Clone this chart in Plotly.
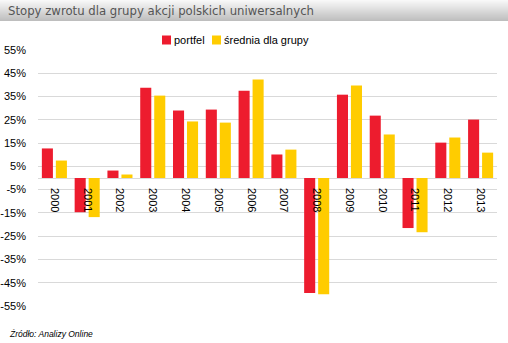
import plotly.graph_objects as go

# Annual returns (%) of the portfolio vs. the group average
years = ["2000", "2001", "2002", "2003", "2004", "2005", "2006",
         "2007", "2008", "2009", "2010", "2011", "2012", "2013"]
portfel = [12.7, -14.7, 3.2, 38.8, 29.0, 29.4, 37.5,
           10.1, -49.4, 35.8, 26.8, -21.5, 15.2, 25.1]
srednia = [7.5, -16.8, 1.5, 35.4, 24.3, 23.8, 42.3,
           12.2, -49.9, 39.7, 18.7, -23.3, 17.4, 10.9]
y_ticks = [55, 45, 35, 25, 15, 5, -5, -15, -25, -35, -45, -55]

series_names = ["portfel", "średnia dla grupy"]
series_colors = ["#ED1C2E", "#FFCC00"]

W, H = 508, 343
ML, MR, MT, MB = 38, 11, 50, 37
PW, PH = W - ML - MR, H - MT - MB


def px_x(p):
    return (p - ML) / PW


def px_y(p):
    return (H - MB - p) / PH


fig = go.Figure()
for name, vals, col in zip(series_names, [portfel, srednia], series_colors):
    fig.add_bar(x=years, y=vals, name=name, marker_color=col, marker_line_width=0)

# Header band with a vertical grey gradient
band_h = 21
top_rgb = (248, 248, 248)
bot_rgb = (190, 190, 190)
shapes = []
for i in range(band_h):
    t = i / (band_h - 1)
    c = tuple(round(a + (b - a) * t) for a, b in zip(top_rgb, bot_rgb))
    shapes.append(dict(type="rect", xref="paper", yref="paper",
                       x0=px_x(0), x1=px_x(W), y0=px_y(i + 1), y1=px_y(i),
                       fillcolor="rgb(%d,%d,%d)" % c, line_width=0, layer="below"))

font_main = "Liberation Sans"

annotations = [
    dict(text="Stopy zwrotu dla grupy akcji polskich uniwersalnych",
         xref="paper", yref="paper", x=px_x(6), y=px_y(10.5),
         xanchor="left", yanchor="middle", showarrow=False,
         font=dict(family="DejaVu Sans Condensed", size=13, color="#555555")),
    dict(text="Źródło: Analizy Online",
         xref="paper", yref="paper", x=px_x(7), y=px_y(334),
         xanchor="left", yanchor="middle", showarrow=False,
         font=dict(family=font_main, size=8.5, color="#000000", style="italic")),
]

# Compact legend: coloured squares followed by labels
legend_y = 40
legend_x = [162, 212]
for name, col, lx in zip(series_names, series_colors, legend_x):
    shapes.append(dict(type="rect", xref="paper", yref="paper",
                       x0=px_x(lx), x1=px_x(lx + 9),
                       y0=px_y(legend_y + 4.5), y1=px_y(legend_y - 4.5),
                       fillcolor=col, line_width=0))
    annotations.append(dict(text=name, xref="paper", yref="paper",
                            x=px_x(lx + 10), y=px_y(legend_y),
                            xanchor="left", yanchor="middle", showarrow=False,
                            font=dict(family=font_main, size=11, color="#000000")))

fig.update_layout(
    width=W, height=H,
    margin=dict(l=ML, r=MR, t=MT, b=MB, autoexpand=False),
    paper_bgcolor="white", plot_bgcolor="white",
    barmode="group", bargap=0.146, bargroupgap=0.21,
    shapes=shapes,
    font=dict(family=font_main, size=11, color="#000000"),
    showlegend=False,
    annotations=annotations,
)

fig.update_yaxes(range=[-55, 55], tickvals=y_ticks,
                 ticktext=["%d%%" % v for v in y_ticks],
                 showgrid=True, gridcolor="#D9D9D9", gridwidth=1,
                 zeroline=True, zerolinecolor="#D9D9D9", zerolinewidth=1,
                 showline=False, ticks="", ticklabelstandoff=11,
                 automargin=False,
                 tickfont=dict(size=11, family=font_main))
fig.update_xaxes(anchor="free", position=0.5, tickangle=90,
                 showgrid=False, showline=False, ticks="",
                 ticklabelstandoff=9, automargin=False,
                 tickfont=dict(size=11, family=font_main))

fig.write_html("out.html")
